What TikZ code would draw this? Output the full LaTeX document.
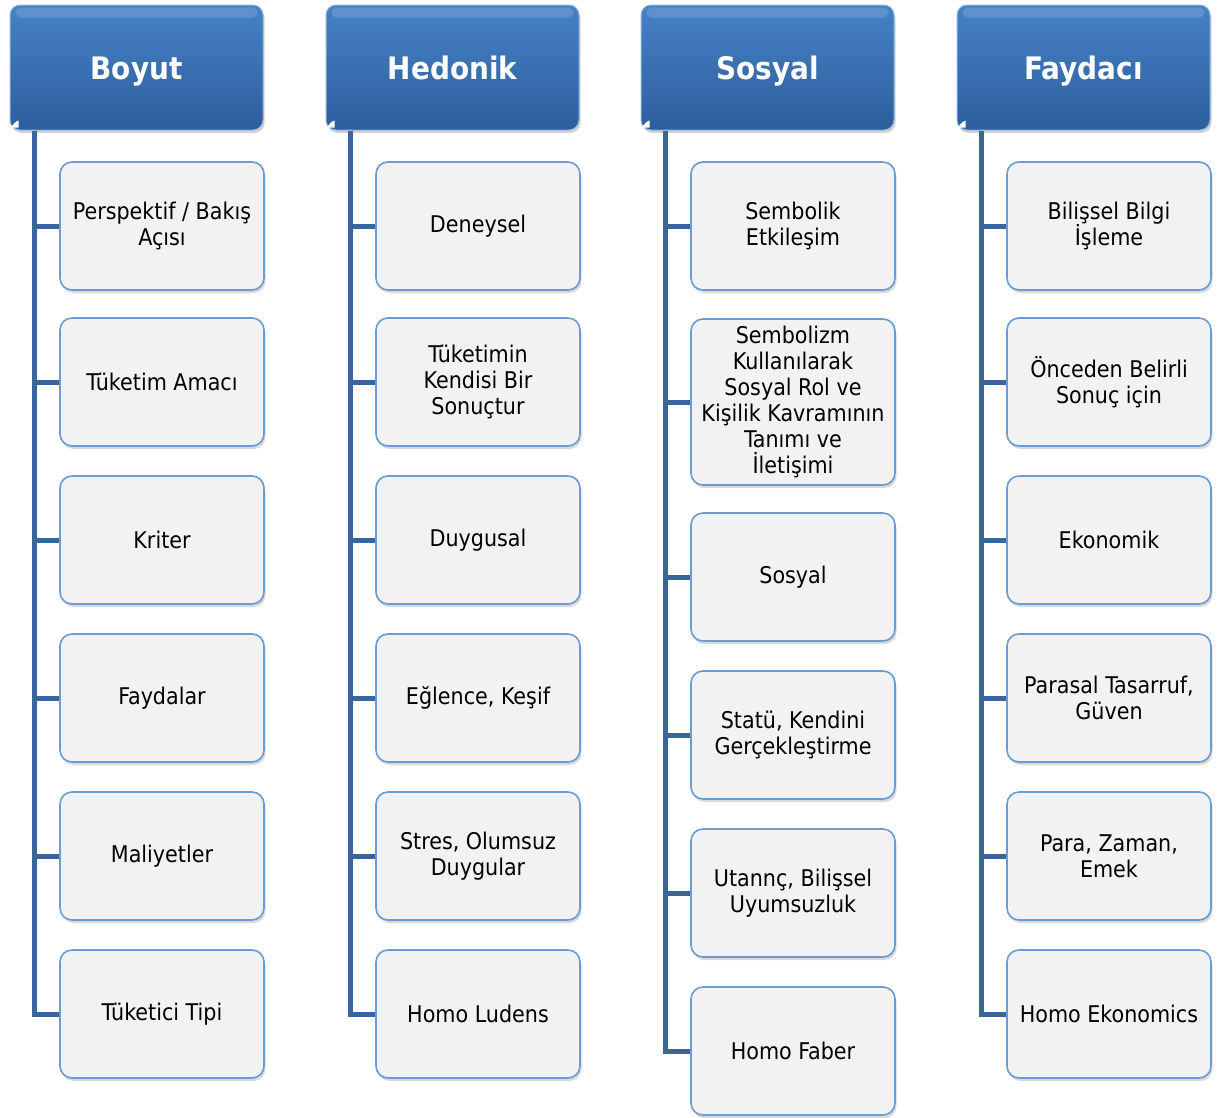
\documentclass[tikz,border=0pt]{standalone}
\usepackage{fontspec}
\setmainfont{DejaVu Sans Condensed}
\usetikzlibrary{shadows,calc}
\definecolor{trunk}{HTML}{3A6599}
\definecolor{boxline}{HTML}{6C9BD2}
\definecolor{boxfill}{HTML}{F2F2F2}
\definecolor{htop}{HTML}{4682C6}
\definecolor{hbot}{HTML}{2D5E9E}
\begin{document}
\begin{tikzpicture}[x=1pt,y=-1pt,
  header/.style={rounded corners=10pt, minimum width=253pt, minimum height=125pt,
    top color=htop, bottom color=hbot, draw=htop!60!white, line width=1pt,
    text=white, font=\fontsize{31}{36}\selectfont\bfseries,
    text height=23pt, text depth=0pt,
    drop shadow={opacity=0.35, shadow xshift=1.5pt, shadow yshift=-3pt}},
  item/.style={rounded corners=12pt, minimum width=204pt, minimum height=128pt,
    fill=boxfill, draw=boxline, line width=1.6pt, align=center, inner sep=2pt,
    font=\fontsize{23}{26}\selectfont,
    drop shadow={opacity=0.3, shadow xshift=1.5pt, shadow yshift=-3pt}},
  link/.style={draw=trunk, line width=5pt}]
\useasboundingbox (0,0) rectangle (1221,1117);

% headers
\node[header] (h1) at (136.5,67.5) {Boyut};
\node[header] (h2) at (452.5,67.5) {Hedonik};
\node[header] (h3) at (767.5,67.5) {Sosyal};
\node[header] (h4) at (1083.5,67.5) {Faydacı};

% glossy highlight along the top of each header
\foreach \h in {h1,h2,h3,h4}{
  \fill[white, opacity=0.14, rounded corners=5pt]
    ($(\h.north west)+(6,3)$) rectangle ($(\h.north east)+(-6,13)$);
  \fill[white] ($(\h.south west)+(2,-3)$) -- ++(7,0) -- ++(0,-7) .. controls +(-3,1) and +(1,-3) .. cycle;
}

% column 1
\node[item] (a1) at (162,226) {Perspektif / Bakış\\Açısı};
\node[item] (a2) at (162,382) {Tüketim Amacı};
\node[item] (a3) at (162,540) {Kriter};
\node[item] (a4) at (162,698) {Faydalar};
\node[item] (a5) at (162,856) {Maliyetler};
\node[item] (a6) at (162,1014) {Tüketici Tipi};

% column 2
\node[item] (b1) at (478,226) {Deneysel};
\node[item] (b2) at (478,382) {Tüketimin\\Kendisi Bir\\Sonuçtur};
\node[item] (b3) at (478,540) {Duygusal};
\node[item] (b4) at (478,698) {Eğlence, Keşif};
\node[item] (b5) at (478,856) {Stres, Olumsuz\\Duygular};
\node[item] (b6) at (478,1014) {Homo Ludens};

% column 3
\node[item] (c1) at (793,226) {Sembolik\\Etkileşim};
\node[item, minimum height=166pt] (c2) at (793,402) {Sembolizm\\Kullanılarak\\Sosyal Rol ve\\Kişilik Kavramının\\Tanımı ve\\İletişimi};
\node[item] (c3) at (793,577) {Sosyal};
\node[item] (c4) at (793,735) {Statü, Kendini\\Gerçekleştirme};
\node[item] (c5) at (793,893) {Utannç, Bilişsel\\Uyumsuzluk};
\node[item] (c6) at (793,1051) {Homo Faber};

% column 4
\node[item] (d1) at (1109,226) {Bilişsel Bilgi\\İşleme};
\node[item] (d2) at (1109,382) {Önceden Belirli\\Sonuç için};
\node[item] (d3) at (1109,540) {Ekonomik};
\node[item] (d4) at (1109,698) {Parasal Tasarruf,\\Güven};
\node[item] (d5) at (1109,856) {Para, Zaman,\\Emek};
\node[item] (d6) at (1109,1014) {Homo Ekonomics};

% connectors
\foreach \h/\c in {h1/a, h2/b, h3/c, h4/d}{
  \coordinate (\h t) at ($(\h.south west)+(25,0)$);
  \draw[link] (\h t) |- (\c6.west);
  \foreach \k in {1,...,5}{
    \draw[link] (\h t |- \c\k.west) -- (\c\k.west);
  }
}
\end{tikzpicture}
\end{document}
